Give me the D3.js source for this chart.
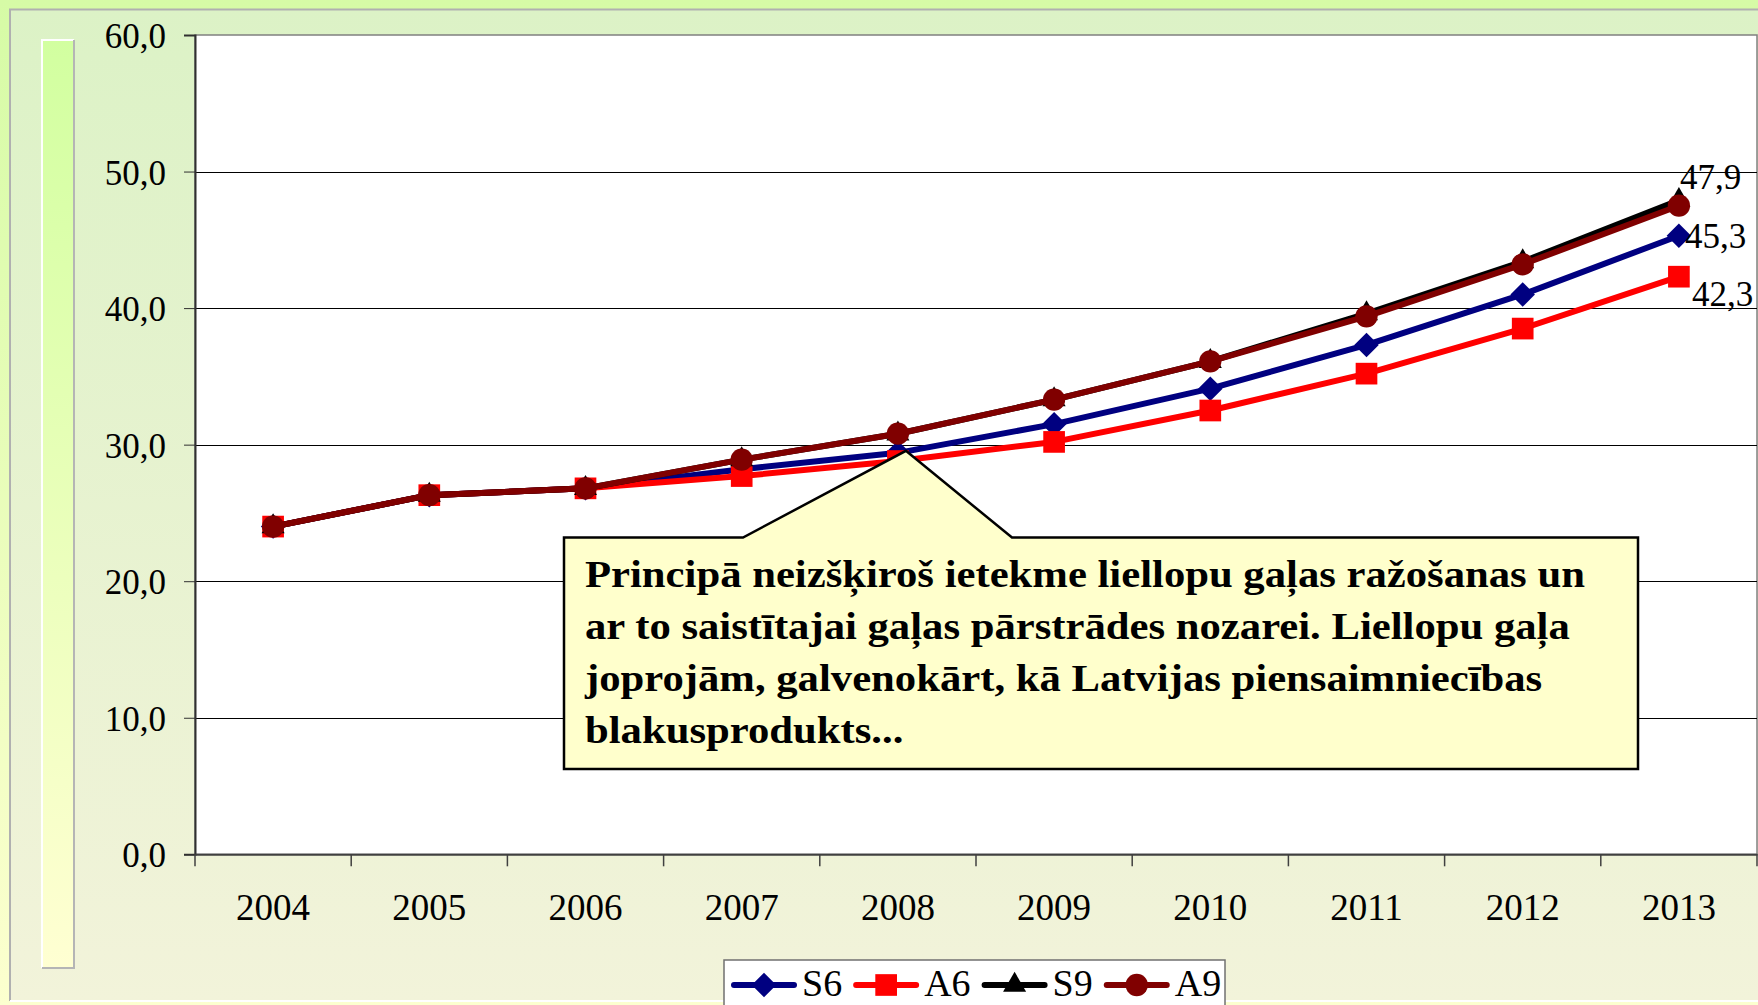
<!DOCTYPE html>
<html>
<head>
<meta charset="utf-8">
<script src="https://cdn.jsdelivr.net/npm/d3@7"></script>
<style>
	body { margin: 0; padding: 0; overflow: hidden; }
	text { font-family: "Liberation Serif", "Times New Roman", serif; }
</style>
</head>
<body>
<script>
// categories and series
var years = ["2004", "2005", "2006", "2007", "2008", "2009", "2010", "2011", "2012", "2013"];
var s6 = [24.0, 26.3, 26.8, 28.2, 29.4, 31.5, 34.1, 37.3, 41.0, 45.3];
var a6 = [24.0, 26.3, 26.8, 27.7, 28.8, 30.2, 32.5, 35.2, 38.5, 42.3];
var s9 = [24.0, 26.3, 26.8, 28.9, 30.8, 33.3, 36.1, 39.6, 43.4, 47.9];
var a9 = [24.0, 26.3, 26.8, 28.9, 30.8, 33.3, 36.1, 39.4, 43.2, 47.5];
var seriesNames = ["S6", "A6", "S9", "A9"];
var yTicks = [0, 10, 20, 30, 40, 50, 60];
var noteLines = [
	"Principā neizšķiroš ietekme liellopu gaļas ražošanas un",
	"ar to saistītajai gaļas pārstrādes nozarei. Liellopu gaļa",
	"joprojām, galvenokārt, kā Latvijas piensaimniecības",
	"blakusprodukts..."
];

window.onload = function(){
	var w = 1758, h = 1005;
	var left = 195, right = 1757, top = 35, bottom = 854.3;

	var svg = d3.select("body")
		.append("svg")
		.attr("width", w)
		.attr("height", h);

	var defs = svg.append("defs");
	// outer background gradient
	var g1 = defs.append("linearGradient").attr("id", "outerBg")
		.attr("x1", 0).attr("y1", 0).attr("x2", 0).attr("y2", 1);
	g1.append("stop").attr("offset", "0%").attr("stop-color", "#d6fba6");
	g1.append("stop").attr("offset", "100%").attr("stop-color", "#fcffcf");
	// panel gradient
	var g2 = defs.append("linearGradient").attr("id", "panelBg")
		.attr("x1", 0).attr("y1", 0).attr("x2", 0).attr("y2", 1);
	g2.append("stop").attr("offset", "0%").attr("stop-color", "#dcf2c6");
	g2.append("stop").attr("offset", "100%").attr("stop-color", "#f2f3da");
	// left decorative bar gradient
	var g3 = defs.append("linearGradient").attr("id", "barBg")
		.attr("x1", 0).attr("y1", 0).attr("x2", 0).attr("y2", 1);
	g3.append("stop").attr("offset", "0%").attr("stop-color", "#d2ffa0");
	g3.append("stop").attr("offset", "100%").attr("stop-color", "#ffffd2");

	svg.append("rect").attr("width", w).attr("height", h).style("fill", "url(#outerBg)");

	// panel with grey top/left and white bottom edge
	svg.append("rect")
		.attr("x", 9).attr("y", 9).attr("width", w).attr("height", 992)
		.style("fill", "url(#panelBg)");
	svg.append("path")
		.attr("d", "M10,1001V9.5H" + w)
		.style("fill", "none").style("stroke", "#b0b0b0").style("stroke-width", 2);
	svg.append("line")
		.attr("x1", 10).attr("x2", w).attr("y1", 1001).attr("y2", 1001)
		.style("stroke", "#ffffff").style("stroke-width", 2);

	// left decorative bar
	svg.append("rect")
		.attr("x", 42).attr("y", 40).attr("width", 32).attr("height", 928)
		.style("fill", "url(#barBg)");
	svg.append("path")
		.attr("d", "M42,968V40H74")
		.style("fill", "none").style("stroke", "#ffffff").style("stroke-width", 2);
	svg.append("path")
		.attr("d", "M74,40V968H42")
		.style("fill", "none").style("stroke", "#b5b5b5").style("stroke-width", 2);

	// scales
	var x = d3.scaleBand().domain(years).range([left, right]);
	var y = d3.scaleLinear().domain([0, 60]).range([bottom, top]);
	var cx = function(d, i){ return x(years[i]) + x.bandwidth() / 2; };

	// plot area
	svg.append("rect")
		.attr("x", left).attr("y", top)
		.attr("width", right - left).attr("height", bottom - top)
		.style("fill", "#ffffff")
		.style("stroke", "#808080").style("stroke-width", 1.5);

	// gridlines
	svg.append("g")
		.selectAll("line")
		.data(yTicks.filter(function(d){ return d > 0 && d < 60; }))
		.enter()
		.append("line")
		.attr("x1", left).attr("x2", right)
		.attr("y1", function(d){ return Math.round(y(d)) + 0.5; })
		.attr("y2", function(d){ return Math.round(y(d)) + 0.5; })
		.style("stroke", "#000000").style("stroke-width", 1);

	// y axis
	var yAxis = svg.append("g")
		.attr("transform", "translate(" + left + ",0)")
		.call(d3.axisLeft(y)
			.tickValues(yTicks)
			.tickSize(11)
			.tickPadding(18)
			.tickFormat(function(d){ return d.toFixed(1).replace(".", ","); }));
	yAxis.select(".domain").style("stroke", "#303030").style("stroke-width", 2);
	yAxis.selectAll(".tick line").style("stroke", "#303030");
	yAxis.selectAll("text")
		.style("font-family", "'Liberation Serif', serif")
		.style("font-size", "35px")
		.attr("dy", "0.36em")
		.style("fill", "#000");

	// x axis
	var xAxis = svg.append("g")
		.attr("transform", "translate(0," + bottom + ")")
		.call(d3.axisBottom(x).tickSize(0).tickPadding(39));
	xAxis.select(".domain").style("stroke", "#404040").style("stroke-width", 2);
	xAxis.selectAll("text")
		.style("font-family", "'Liberation Serif', serif")
		.style("font-size", "37px")
		.style("fill", "#000");
	// category boundary ticks
	var bounds = years.map(function(d){ return x(d); }).concat([right]);
	svg.append("g")
		.selectAll("line")
		.data(bounds)
		.enter()
		.append("line")
		.attr("x1", function(d){ return d; }).attr("x2", function(d){ return d; })
		.attr("y1", bottom).attr("y2", bottom + 12)
		.style("stroke", "#404040").style("stroke-width", 1.5);

	// series
	var series = [
		{ name: seriesNames[0], values: s6, color: "#000080", symbol: "diamond" },
		{ name: seriesNames[1], values: a6, color: "#ff0000", symbol: "square" },
		{ name: seriesNames[2], values: s9, color: "#000000", symbol: "triangle" },
		{ name: seriesNames[3], values: a9, color: "#800000", symbol: "circle" }
	];

	var symbolPath = function(kind){
		if (kind === "diamond") return d3.symbol(d3.symbolSquare, 300)();
		if (kind === "square") return d3.symbol(d3.symbolSquare, 470)();
		if (kind === "triangle") return d3.symbol(d3.symbolTriangle, 230)();
		return d3.symbol(d3.symbolCircle, 390)();
	};
	var symbolRotate = function(kind){ return kind === "diamond" ? " rotate(45)" : ""; };

	var line = d3.line().x(cx).y(function(d){ return y(d); });

	series.forEach(function(s){
		var g = svg.append("g").attr("class", "series");
		g.append("path")
			.datum(s.values)
			.attr("d", line)
			.style("fill", "none")
			.style("stroke", s.color)
			.style("stroke-width", 6)
			.style("stroke-linejoin", "round");
		g.selectAll(".marker")
			.data(s.values)
			.enter()
			.append("path")
			.attr("class", "marker")
			.attr("d", symbolPath(s.symbol))
			.attr("transform", function(d, i){
				return "translate(" + cx(d, i) + "," + y(d) + ")" + symbolRotate(s.symbol);
			})
			.style("fill", s.color);
	});

	// end labels (S9, S6, A6)
	var last = years.length - 1;
	var endLabels = [
		{ s: series[2], dx: 1, dy: -11 },
		{ s: series[0], dx: 6, dy: 12 },
		{ s: series[1], dx: 13, dy: 29 }
	];
	svg.append("g")
		.selectAll("text")
		.data(endLabels)
		.enter()
		.append("text")
		.attr("x", function(d){ return cx(null, last) + d.dx; })
		.attr("y", function(d){ return y(d.s.values[last]) + d.dy; })
		.style("font-size", "35px")
		.text(function(d){ return d.s.values[last].toFixed(1).replace(".", ","); });

	// callout note pointing at 2008
	var tipX = cx(null, 4) + 8, tipY = y(s6[4]) - 2;
	var bx0 = 564, bx1 = 1638, by0 = 537.5, by1 = 769;
	svg.append("path")
		.attr("d", "M" + bx0 + "," + by0 + "H743L" + tipX + "," + tipY + "L1012," + by0 +
			"H" + bx1 + "V" + by1 + "H" + bx0 + "Z")
		.style("fill", "#ffffcc")
		.style("stroke", "#000000")
		.style("stroke-width", 2.5);
	// the original text is stretched sideways; fit the first line to its width
	var note = svg.append("g");
	var noteText = note.selectAll("text")
		.data(noteLines)
		.enter()
		.append("text")
		.attr("x", 0)
		.attr("y", function(d, i){ return 587 + i * 52; })
		.style("font-size", "38px")
		.style("font-weight", "bold")
		.text(function(d){ return d; });
	var sx = 1000 / noteText.node().getComputedTextLength();
	note.attr("transform", "translate(585,0) scale(" + sx + ",1)");

	// legend
	var legend = svg.append("g");
	legend.append("rect")
		.attr("x", 724).attr("y", 960).attr("width", 501).attr("height", 60)
		.style("fill", "#ffffff")
		.style("stroke", "#707070").style("stroke-width", 1.5);
	var lx = 734, ly = 985;
	series.forEach(function(s){
		legend.append("line")
			.attr("x1", lx).attr("x2", lx + 60)
			.attr("y1", ly).attr("y2", ly)
			.style("stroke", s.color).style("stroke-width", 6)
			.style("stroke-linecap", "round");
		legend.append("path")
			.attr("d", symbolPath(s.symbol))
			.attr("transform", "translate(" + (lx + 30) + "," + ly + ")" + symbolRotate(s.symbol))
			.style("fill", s.color);
		var t = legend.append("text")
			.attr("x", lx + 68).attr("y", 996)
			.style("font-size", "38px")
			.text(s.name);
		lx = lx + 68 + t.node().getComputedTextLength() + 14;
	});
};
</script>
</body>
</html>
